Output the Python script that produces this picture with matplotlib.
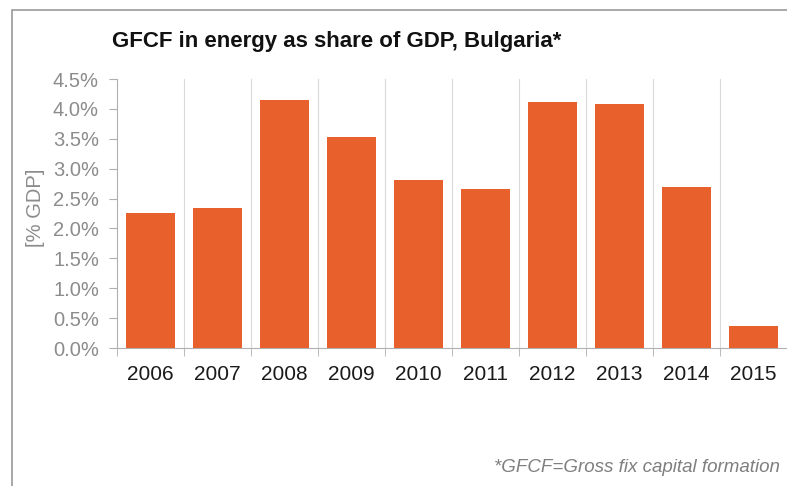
import numpy as np
import matplotlib.pyplot as plt
from matplotlib.patches import Rectangle

plt.rcParams['font.family'] = ['Liberation Sans', 'DejaVu Sans']

years = ['2006', '2007', '2008', '2009', '2010', '2011', '2012', '2013', '2014', '2015']
share = [2.26, 2.34, 4.15, 3.53, 2.81, 2.66, 4.11, 4.08, 2.69, 0.37]
yticks = [0.0, 0.5, 1.0, 1.5, 2.0, 2.5, 3.0, 3.5, 4.0, 4.5]

orange = '#e8612c'
gray = '#8c8c8c'

fig = plt.figure(figsize=(7.87, 4.86), dpi=100)
# outer frame (cut at right/bottom like the screenshot)
fig.patches.append(Rectangle((12 / 787, -0.1), 1.2, 1.1 - 10 / 486,
                             transform=fig.transFigure, fill=False,
                             edgecolor='#9a9a9a', linewidth=1.2))

ax = fig.add_axes([117 / 787, 1 - 348 / 486, 1 - 117 / 787, (348 - 79) / 486])
x = np.arange(len(years))
ax.bar(x, share, width=0.73, color=orange, zorder=3)

ax.set_xlim(-0.5, len(years) - 0.5)
ax.set_ylim(0, 4.5)
ax.set_yticks(yticks)
ax.set_yticklabels([f'{v:.1f}%' for v in yticks], color=gray, fontsize=14.5)
ax.set_xticks(x)
ax.set_xticklabels(years, fontsize=15, color='#1a1a1a')
ax.tick_params(axis='x', length=0, pad=12)
ax.tick_params(axis='y', length=6, color='#b0b0b0', pad=7)

# category boundaries: gridlines and tick marks
bounds = np.arange(-0.5, len(years) + 0.5, 1.0)
for b in bounds[1:-1]:
    ax.axvline(b, color='#d9d9d9', linewidth=0.8, zorder=1)
ax.set_xticks(bounds, minor=True)
ax.tick_params(axis='x', which='minor', length=6, color='#b0b0b0')

for s in ['top', 'right']:
    ax.spines[s].set_visible(False)
ax.spines['left'].set_color('#b0b0b0')
ax.spines['bottom'].set_color('#b0b0b0')

ax.set_ylabel('[% GDP]', color=gray, fontsize=14.5)
ax.yaxis.set_label_coords(-72 / 670, 0.52)

fig.text(112 / 787, 1 - 42 / 486, 'GFCF in energy as share of GDP, Bulgaria*',
         fontsize=16, fontweight='bold', color='#111111', va='center', ha='left')
fig.text(780 / 787, 1 - 468 / 486, '*GFCF=Gross fix capital formation',
         fontsize=13.5, style='italic', color='#7f7f7f', va='center', ha='right')

fig.savefig('out.png', dpi=100)
